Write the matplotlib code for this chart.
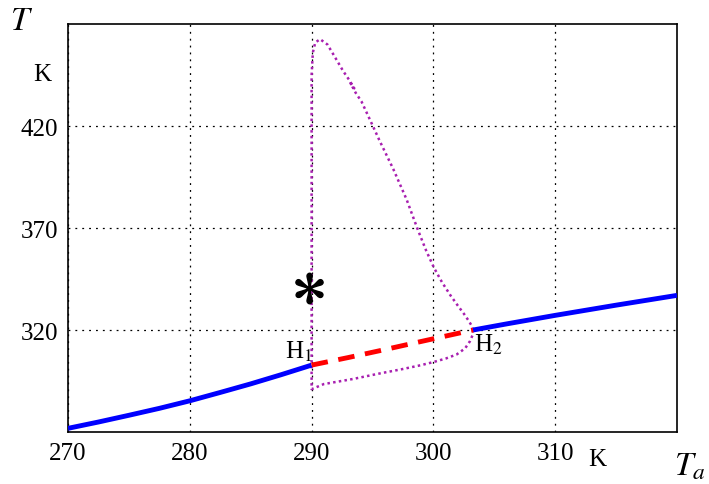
import matplotlib
matplotlib.use("Agg")
import matplotlib.pyplot as plt

plt.rcParams["font.family"] = ["Liberation Serif", "DejaVu Serif"]
plt.rcParams["mathtext.fontset"] = "stix"

# stable steady states (blue)
ta_stable_lo = [270, 272.5, 275, 277.5, 280, 282.5, 285, 287.5, 290]
t_stable_lo = [271.8, 274.9, 278.2, 281.6, 285.3, 289.4, 293.6, 298.1, 302.8]
ta_stable_hi = [303.25, 306, 310, 315, 320]
t_stable_hi = [320.0, 323.0, 327.2, 332.2, 337.0]

# unstable steady states (red dashed)
ta_unstable = [290, 293, 296, 299, 303.25]
t_unstable = [302.8, 306.5, 310.4, 314.4, 320.0]

# limit cycle max/min (purple dotted), closed loop H2 -> top -> T_a=290 -> bottom -> H2
ta_cycle = [303.25, 303.15, 302.9, 302.5, 302.0, 301.4, 300.7, 300.05, 299.4,
            298.7, 297.8, 296.7, 295.6, 294.8, 294.1, 293.6, 293.2, 293.5,
            293.1, 292.6, 291.8, 291.3, 290.7, 290.3, 290.1, 290.0, 290.0,
            290.0, 290.0, 291.0, 293.4, 295.5, 297.5, 299.0, 300.0, 301.0,
            301.9, 302.6, 303.0, 303.2, 303.25]
t_cycle = [320.0, 322.0, 324.5, 328.0, 332.0, 337.0, 343.5, 350.5, 359.0,
           369.5, 384.0, 399.0, 412.6, 423.0, 432.0, 436.5, 441.0, 438.5,
           442.5, 446.9, 455.0, 460.0, 462.6, 461.0, 456.0, 445.0, 380.0,
           291.0, 291.0, 293.5, 296.0, 298.6, 300.9, 302.8, 304.3, 306.0,
           308.0, 311.0, 314.5, 317.3, 320.0]

star_ta, star_t = 289.8, 340.6

fig = plt.figure(figsize=(7.09, 4.85), dpi=100)
ax = fig.add_axes([0.0959, 0.1072, 0.859, 0.841])

ax.plot(ta_cycle, t_cycle, color="#a81fb0", lw=1.8, ls=(0, (1, 1.3)), zorder=2)
ax.plot(ta_stable_lo, t_stable_lo, color="#0000ff", lw=3.5, solid_capstyle="butt", zorder=3)
ax.plot(ta_stable_hi, t_stable_hi, color="#0000ff", lw=3.5, solid_capstyle="butt", zorder=3)
ax.plot(ta_unstable, t_unstable, color="#ff0000", lw=3.5, ls=(0, (3.4, 2.2)), zorder=3)
ax.plot([star_ta], [star_t], marker="$\\ast$", color="k", ms=22, ls="none", zorder=4)

ax.text(290.1, 304.0, "H$_1$", fontsize=18, ha="right", va="bottom")
ax.text(303.3, 319.0, "H$_2$", fontsize=18, ha="left", va="top")

ax.set_xlim(270, 320)
ax.set_ylim(270, 470)
ax.set_xticks([270, 280, 290, 300, 310])
ax.set_yticks([320, 370, 420])
ax.tick_params(direction="in", length=0, labelsize=18, pad=7)
ax.grid(True, color="k", lw=0.9, ls=(0, (1.5, 4)))
for s in ax.spines.values():
    s.set_linewidth(1.2)

fig.text(22 / 709, 1 - 22 / 485, "$T$", fontsize=24, ha="center", va="center")
fig.text(42 / 709, 1 - 75 / 485, "K", fontsize=18, ha="center", va="center")
fig.text(597 / 709, 1 - 460 / 485, "K", fontsize=18, ha="center", va="center")
fig.text(690 / 709, 1 - 467 / 485, "$T_a$", fontsize=24, ha="center", va="center")

fig.savefig("out.png", dpi=100)
plt.close(fig)
